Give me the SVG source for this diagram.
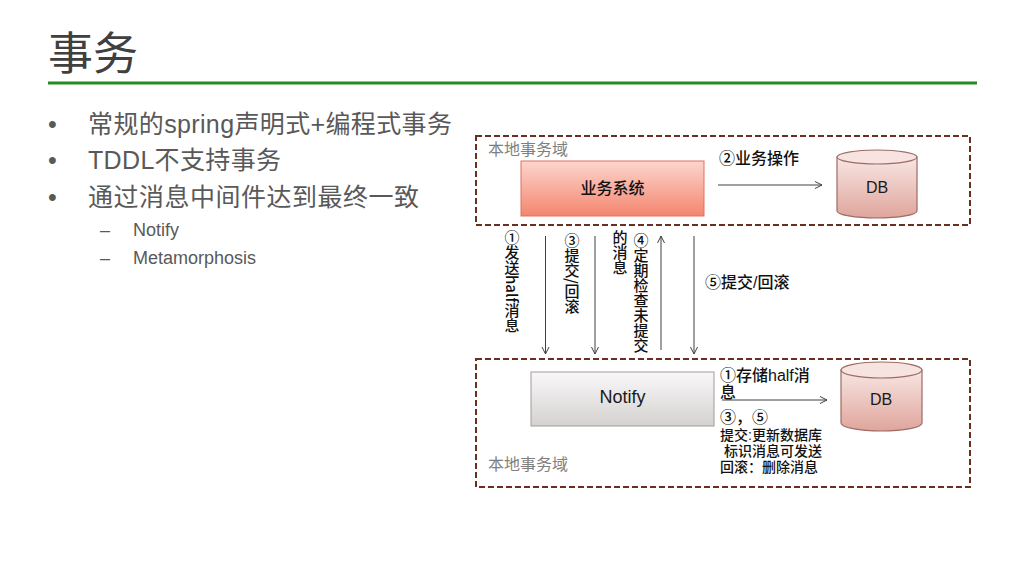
<svg xmlns="http://www.w3.org/2000/svg" width="1024" height="576" viewBox="0 0 1024 576">
<defs>
<linearGradient id="gRed" x1="0" y1="0" x2="0" y2="1">
<stop offset="0" stop-color="#fcd6cd"/>
<stop offset="1" stop-color="#f4856f"/>
</linearGradient>
<linearGradient id="gGray" x1="0" y1="0" x2="0" y2="1">
<stop offset="0" stop-color="#f9f8f8"/>
<stop offset="1" stop-color="#d5d1d1"/>
</linearGradient>
<linearGradient id="gDb" x1="0" y1="0" x2="0" y2="1">
<stop offset="0" stop-color="#f8e6e3"/>
<stop offset="1" stop-color="#dfa59c"/>
</linearGradient>
<marker id="arr" markerWidth="10" markerHeight="10" refX="8" refY="4" orient="auto" markerUnits="userSpaceOnUse">
<path d="M1,0.5 L8,4 L1,7.5" fill="none" stroke="#404040" stroke-width="1"/>
</marker>
<style>
.t{font-family:"Liberation Sans","Noto Sans CJK SC",sans-serif;}
.title{font-size:45px;fill:#404040;}
.b1{font-size:25px;fill:#595959;}
.b2{font-size:18px;fill:#595959;}
.dom{fill:none;stroke:#6b2f22;stroke-width:2;stroke-dasharray:6 3;}
.lbl{font-size:16px;fill:#111111;font-weight:500;}
.sm{font-size:14px;fill:#111111;font-weight:500;}
.gray{font-size:16px;fill:#7f7f7f;}
.vt{font-family:"Noto Sans CJK SC","Liberation Sans",sans-serif;font-size:15px;fill:#111111;font-weight:500;writing-mode:vertical-rl;}
.conn{stroke:#404040;stroke-width:1;fill:none;marker-end:url(#arr);}
.db{fill:url(#gDb);stroke:#9c6c66;stroke-width:1.2;}
.dbtop{fill:#f7e3df;stroke:#9c6c66;stroke-width:1.2;}
</style>
</defs>
<rect width="1024" height="576" fill="#ffffff"/>

<g id="title">
<text class="t title" x="48" y="70">事务</text>
<line x1="48" y1="83" x2="977" y2="83" stroke="#238b23" stroke-width="3"/>
</g>

<g id="bullets" class="t">
<text class="b1" x="48" y="133">•</text>
<text class="b1" x="88" y="133" textLength="364" lengthAdjust="spacing">常规的spring声明式+编程式事务</text>
<text class="b1" x="48" y="169">•</text>
<text class="b1" x="88" y="169" textLength="193" lengthAdjust="spacing">TDDL不支持事务</text>
<text class="b1" x="48" y="206">•</text>
<text class="b1" x="88" y="206" textLength="331" lengthAdjust="spacing">通过消息中间件达到最终一致</text>
<text class="b2" x="100" y="236">–</text>
<text class="b2" x="133" y="236">Notify</text>
<text class="b2" x="100" y="264">–</text>
<text class="b2" x="133" y="264">Metamorphosis</text>
</g>

<g id="domain-top">
<rect class="dom" x="476" y="136" width="494" height="89"/>
<text class="t gray" x="488" y="155">本地事务域</text>
</g>

<g id="domain-bottom">
<rect class="dom" x="476" y="359" width="494" height="128"/>
<text class="t gray" x="488" y="470">本地事务域</text>
</g>

<g id="biz-system">
<rect x="521" y="161" width="183" height="55" fill="url(#gRed)" stroke="#e0705c" stroke-width="1"/>
<text class="t lbl" x="612.5" y="194" text-anchor="middle">业务系统</text>
</g>

<g id="db-top">
<path class="db" d="M837,157 V211 A40,7 0 0 0 917,211 V157 Z"/>
<ellipse class="dbtop" cx="877" cy="157" rx="40" ry="7"/>
<text class="t" x="877" y="193" text-anchor="middle" font-size="16" fill="#1a1a1a">DB</text>
</g>

<g id="notify">
<rect x="531" y="372" width="183" height="54" fill="url(#gGray)" stroke="#a19b9b" stroke-width="1"/>
<text class="t" x="622.5" y="403" text-anchor="middle" font-size="18" fill="#1a1a1a">Notify</text>
</g>

<g id="db-bottom">
<path class="db" d="M841,370 V423 A40.5,8 0 0 0 922,423 V370 Z"/>
<ellipse class="dbtop" cx="881.5" cy="370" rx="40.5" ry="8"/>
<text class="t" x="881" y="405" text-anchor="middle" font-size="16" fill="#1a1a1a">DB</text>
</g>

<g id="connectors">
<line class="conn" x1="718" y1="185" x2="822" y2="185"/>
<line class="conn" x1="545.5" y1="236" x2="545.5" y2="354"/>
<line class="conn" x1="595" y1="236" x2="595" y2="354"/>
<line class="conn" x1="661" y1="350" x2="661" y2="236"/>
<line class="conn" x1="694" y1="236" x2="694" y2="354"/>
<line class="conn" x1="722" y1="400" x2="827" y2="400"/>
</g>

<g id="labels" class="t">
<text class="lbl" x="719" y="164">②业务操作</text>
<text class="vt" x="512" y="230">①发送half消息</text>
<text class="vt" x="572" y="233">③提交/回滚</text>
<text class="vt" x="641" y="233">④定期检查未提交</text>
<text class="vt" x="620" y="230">的消息</text>
<text class="lbl" x="705" y="288">⑤提交/回滚</text>
<text class="lbl" x="720" y="381">①存储half消</text>
<text class="lbl" x="720" y="398">息</text>
<text class="lbl" x="720" y="423">③，⑤</text>
<text class="sm" x="720" y="440">提交:更新数据库</text>
<text class="sm" x="724" y="456">标识消息可发送</text>
<text class="sm" x="720" y="472">回滚：删除消息</text>
</g>
</svg>
